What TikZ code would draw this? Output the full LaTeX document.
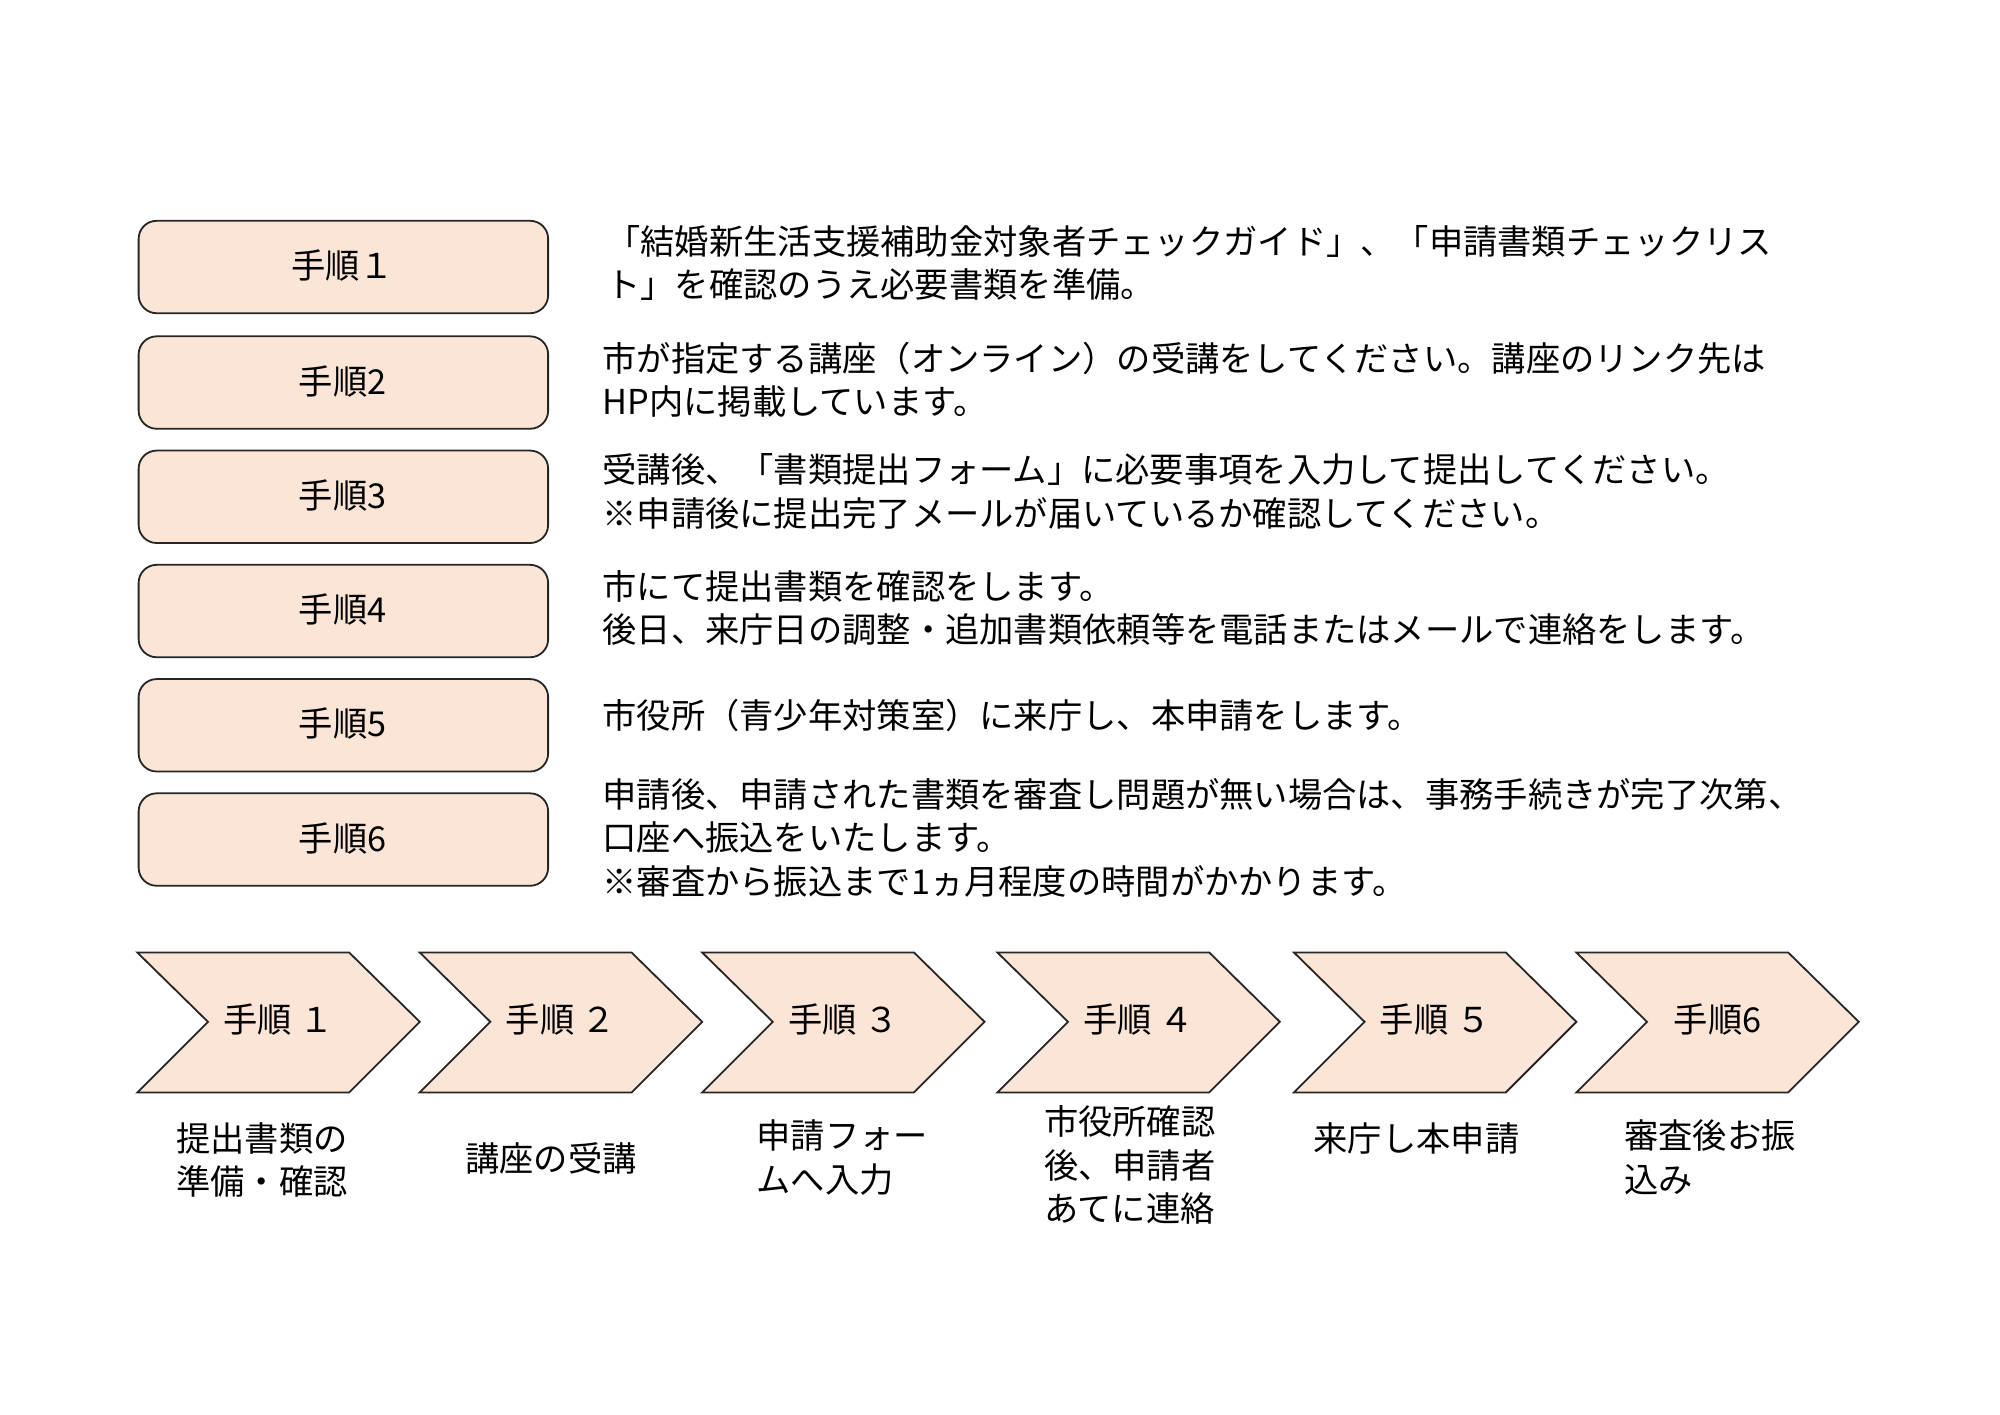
\documentclass[tikz,border=0pt]{standalone}
\usepackage{fontspec}
\setmainfont{Noto Sans CJK JP}
\begin{document}
\begin{tikzpicture}[x=0.02cm,y=-0.02cm,
  stepbox/.style={draw=black!85,fill=peach,rounded corners=8pt,line width=0.8pt},
  chev/.style={draw=black!85,fill=peach,line width=0.8pt},
  txt/.style={anchor=north west,inner sep=0pt,align=left,font=\fontsize{15.2}{19.3}\selectfont},
  lbl/.style={font=\fontsize{15.2}{19.3}\selectfont}]
\definecolor{peach}{HTML}{FBE5D6}
\useasboundingbox (0,0) rectangle (1558,1102);
\foreach \y/\t [count=\i] in {172/手順１,262/手順2,351/手順3,440/手順4,529/手順5,618/手順6}{
  \draw[stepbox] (108,\y) rectangle (427,\y+72);
  \node[lbl] (b\i) at (267,\y+35) {\t};
}
\node[txt] (t1) at (472,175) {「結婚新生活支援補助金対象者チェックガイド」、「申請書類チェックリス\\ト」を確認のうえ必要書類を準備。};
\node[txt] (t2) at (469,266) {市が指定する講座（オンライン）の受講をしてください。講座のリンク先は\\HP内に掲載しています。};
\node[txt] (t3) at (469,353) {受講後、「書類提出フォーム」に必要事項を入力して提出してください。\\※申請後に提出完了メールが届いているか確認してください。};
\node[txt] (t4) at (469,444) {市にて提出書類を確認をします。\\後日、来庁日の調整・追加書類依頼等を電話またはメールで連絡をします。};
\node[txt] (t5) at (469,544) {市役所（青少年対策室）に来庁し、本申請をします。};
\node[txt] (t6) at (469,606) {申請後、申請された書類を審査し問題が無い場合は、事務手続きが完了次第、\\口座へ振込をいたします。\\※審査から振込まで1ヵ月程度の時間がかかります。};
\foreach \x/\t [count=\i] in {107/手順 １,327/手順 ２,547/手順 ３,777/手順 ４,1008/手順 ５,1228/手順6}{
  \draw[chev] (\x,742) -- (\x+165,742) -- (\x+220,796) -- (\x+165,851) -- (\x,851) -- (\x+55,796) -- cycle;
  \node[lbl] (c\i) at (\x+110,794) {\t};
}
\node[txt] (d1) at (137,874) {提出書類の\\準備・確認};
\node[txt] (d2) at (362,890) {講座の受講};
\node[txt] (d3) at (589,872) {申請フォー\\ムへ入力};
\node[txt] (d4) at (813,861) {市役所確認\\後、申請者\\あてに連絡};
\node[txt] (d5) at (1023,874) {来庁し本申請};
\node[txt] (d6) at (1265,872) {審査後お振\\込み};
\end{tikzpicture}
\end{document}
